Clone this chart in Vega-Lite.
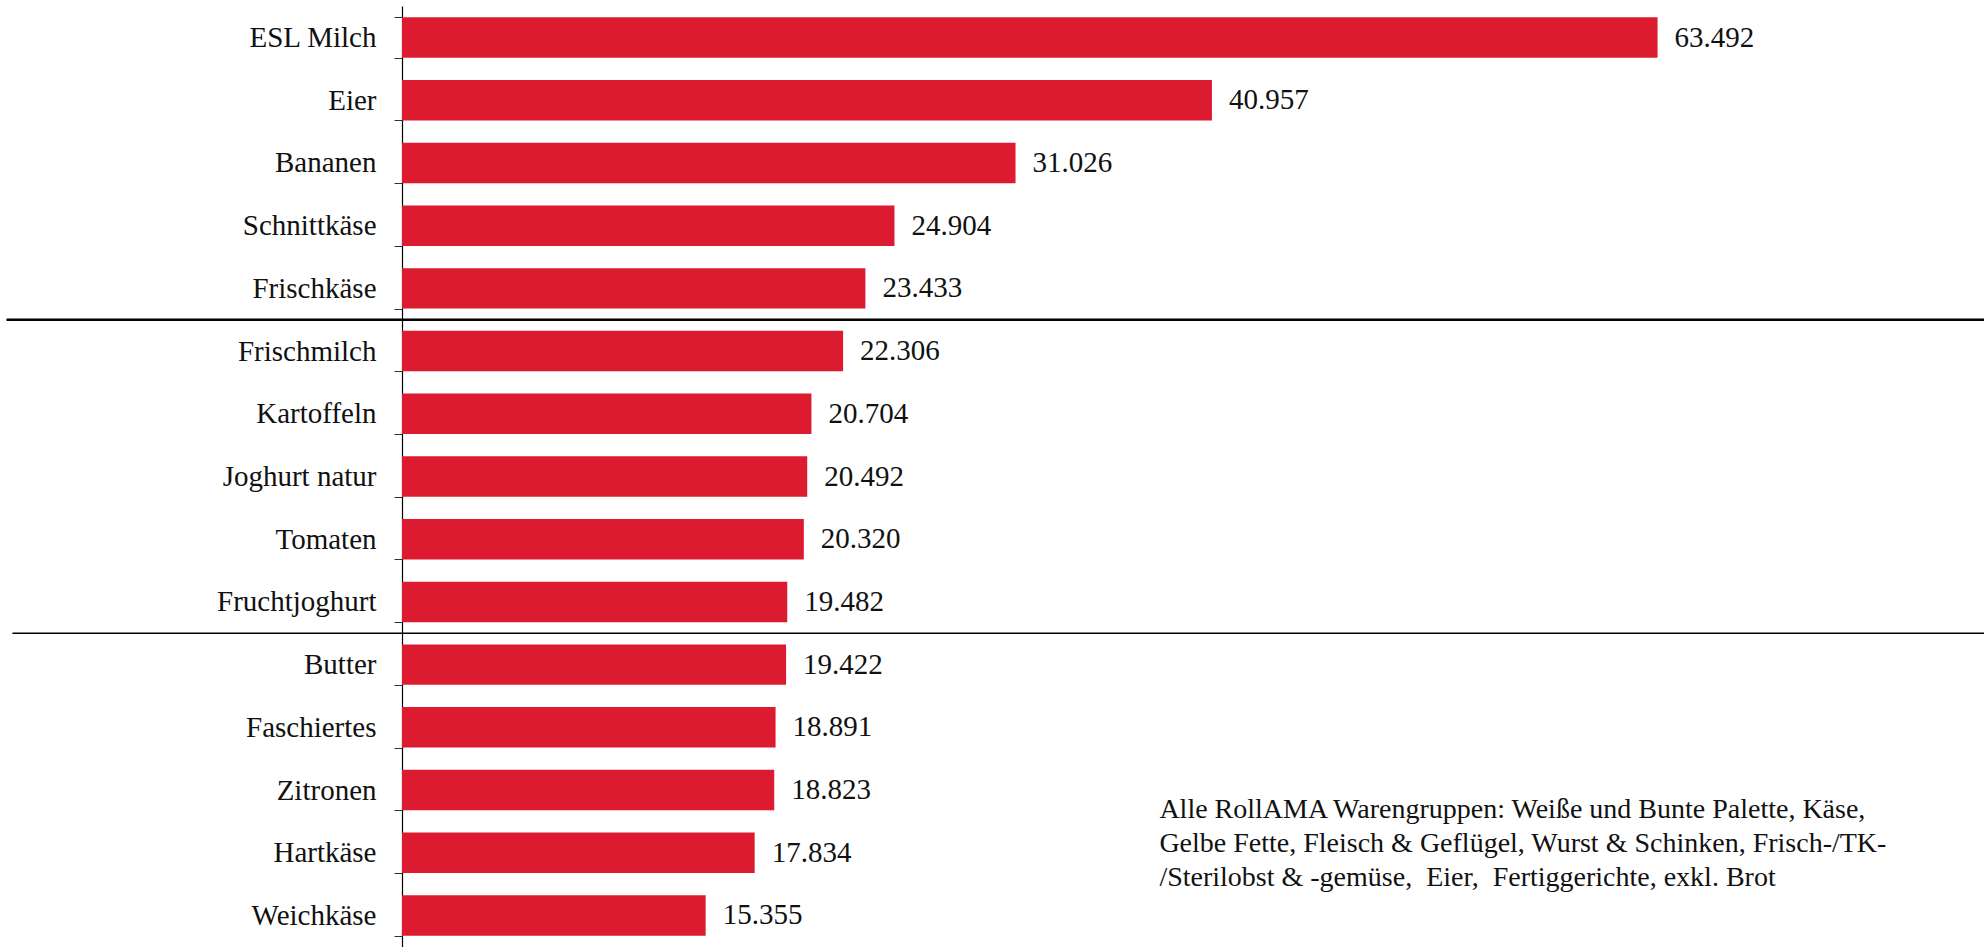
{
  "$schema": "https://vega.github.io/schema/vega-lite/v6.json",
  "autosize": "none",
  "padding": {"left": 402, "top": 6, "right": 0, "bottom": 0},
  "width": 1582,
  "height": 941,
  "background": "white",
  "config": {
    "view": {"stroke": null},
    "locale": {"number": {"decimal": ",", "thousands": ".", "grouping": [3], "currency": ["", " €"]}},
    "font": "Liberation Serif"
  },
  "data": {
    "values": [
      {"cat": "ESL Milch", "value": 63492},
      {"cat": "Eier", "value": 40957},
      {"cat": "Bananen", "value": 31026},
      {"cat": "Schnittkäse", "value": 24904},
      {"cat": "Frischkäse", "value": 23433},
      {"cat": "Frischmilch", "value": 22306},
      {"cat": "Kartoffeln", "value": 20704},
      {"cat": "Joghurt natur", "value": 20492},
      {"cat": "Tomaten", "value": 20320},
      {"cat": "Fruchtjoghurt", "value": 19482},
      {"cat": "Butter", "value": 19422},
      {"cat": "Faschiertes", "value": 18891},
      {"cat": "Zitronen", "value": 18823},
      {"cat": "Hartkäse", "value": 17834},
      {"cat": "Weichkäse", "value": 15355}
    ]
  },
  "encoding": {
    "y": {
      "field": "cat",
      "type": "nominal",
      "sort": null,
      "scale": {"paddingInner": 0.355, "paddingOuter": 0.18},
      "axis": {
        "title": null,
        "tickBand": "extent",
        "tickSize": 8,
        "tickColor": "#333333",
        "tickWidth": 1,
        "domainColor": "#000000",
        "domainWidth": 1.2,
        "labelFont": "Liberation Serif",
        "labelFontSize": 29,
        "labelColor": "#111111",
        "labelPadding": 18,
        "labelLimit": 400
      }
    }
  },
  "layer": [
    {
      "mark": {"type": "bar", "color": "#dc1b31"},
      "encoding": {
        "x": {"field": "value", "type": "quantitative", "scale": {"domain": [0, 80000], "nice": false}, "axis": null}
      }
    },
    {
      "mark": {"type": "text", "align": "left", "baseline": "middle", "dx": 17, "fontSize": 29, "color": "#111111", "font": "Liberation Serif"},
      "encoding": {
        "x": {"field": "value", "type": "quantitative"},
        "text": {"field": "value", "type": "quantitative", "format": ",.0f"}
      }
    },
    {
      "data": {"values": [{}]},
      "mark": {"type": "rule", "color": "#000000", "strokeWidth": 2.6, "yOffset": -31.4},
      "encoding": {
        "y": {"datum": "Frischmilch"},
        "x": {"datum": -20000},
        "x2": {"datum": 80000}
      }
    },
    {
      "data": {"values": [{}]},
      "mark": {"type": "rule", "color": "#000000", "strokeWidth": 1.6, "yOffset": -31.4},
      "encoding": {
        "y": {"datum": "Butter"},
        "x": {"datum": -19700},
        "x2": {"datum": 80000}
      }
    },
    {
      "data": {"values": [{"note": ["Alle RollAMA Warengruppen: Weiße und Bunte Palette, Käse,", "Gelbe Fette, Fleisch & Geflügel, Wurst & Schinken, Frisch-/TK-", "/Sterilobst & -gemüse,\u00a0 Eier,\u00a0 Fertiggerichte, exkl. Brot"]}]},
      "mark": {"type": "text", "align": "left", "baseline": "alphabetic", "dy": 28, "fontSize": 28, "lineHeight": 34, "color": "#111111", "font": "Liberation Serif"},
      "encoding": {
        "y": {"datum": "Zitronen"},
        "x": {"datum": 38300},
        "text": {"field": "note"}
      }
    }
  ]
}
